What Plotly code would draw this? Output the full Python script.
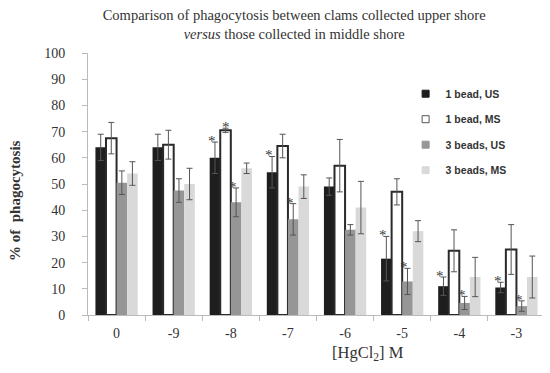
import plotly.graph_objects as go

categories = ["0", "-9", "-8", "-7", "-6", "-5", "-4", "-3"]
series_names = ["1 bead, US", "1 bead, MS", "3 beads, US", "3 beads, MS"]

bead1_us = [64, 64, 60, 54.5, 49, 21.5, 11, 10.5]
bead1_us_err = [5, 5, 6, 6, 3.3, 8.5, 3.5, 2]
bead1_ms = [67.5, 65, 70.5, 64.5, 57, 47, 24.5, 25]
bead1_ms_err = [6, 5.5, 0.8, 4.5, 10, 5, 8, 9.5]
bead3_us = [50.5, 47.5, 43, 36.5, 32.5, 12.8, 4.6, 3.4]
bead3_us_err = [4.5, 4.5, 5.5, 6, 2, 5, 2.5, 2]
bead3_ms = [54, 50, 56, 49, 41, 32, 14.5, 14.5]
bead3_ms_err = [4.5, 6, 2, 4.5, 10, 4, 7.5, 8]

# significance marks (1 = asterisk)
sig_1us = [0, 0, 1, 1, 0, 1, 1, 1]
sig_1ms = [0, 0, 1, 0, 0, 0, 0, 0]
sig_3us = [0, 0, 1, 1, 0, 1, 1, 1]

colors = ["#1e1e1e", "#ffffff", "#969696", "#d9d9d9"]
line_colors = ["#1e1e1e", "#2a2a2a", "#969696", "#d9d9d9"]
line_widths = [0, 2, 0, 0]

values = [bead1_us, bead1_ms, bead3_us, bead3_ms]
errors = [bead1_us_err, bead1_ms_err, bead3_us_err, bead3_ms_err]

# page has an 8px body margin, so the figure is sized to fit the window
W, H = 542, 365
L, R, T, B = 80, 5, 45, 58
bargap = 0.26

fig = go.Figure()
for name, v, e, c, lc, lw in zip(series_names, values, errors, colors, line_colors, line_widths):
    fig.add_trace(go.Bar(
        x=categories, y=v, name=name, showlegend=False,
        marker=dict(color=c, line=dict(color=lc, width=lw)),
        error_y=dict(type="data", array=e, visible=True, color="#555555",
                     thickness=1, width=3),
    ))

# legend entries with small square symbols
legend_colors = ["#1e1e1e", "#ffffff", "#969696", "#d9d9d9"]
legend_lines = ["#1e1e1e", "#555555", "#969696", "#d9d9d9"]
for i, (name, c, lc) in enumerate(zip(series_names, legend_colors, legend_lines)):
    fig.add_trace(go.Scatter(
        x=[categories[0]], y=[None], mode="markers", name=name, legendgroup=f"g{i}",
        marker=dict(symbol="square", size=7, color=c, line=dict(color=lc, width=1)),
    ))

# asterisks
plot_w = W - L - R
plot_h = H - T - B
cat_w = plot_w / len(categories)
bw = cat_w * (1 - bargap) / 4
annotations = []
for sigs, v, e, idx, dx in [(sig_1us, bead1_us, bead1_us_err, 0, -3),
                             (sig_1ms, bead1_ms, bead1_ms_err, 1, 0),
                             (sig_3us, bead3_us, bead3_us_err, 2, -3)]:
    off = (idx - 1.5) * bw
    for ci, (s, vv, ee) in enumerate(zip(sigs, v, e)):
        if s:
            annotations.append(dict(
                x=ci, y=vv + ee, xref="x", yref="y", text="*", showarrow=False,
                xshift=off + dx, yshift=1, yanchor="middle",
                font=dict(family="Liberation Serif", size=15, color="#3a3a3a"),
            ))

# x axis title
annotations.append(dict(
    x=(360 - L) / plot_w, y=-(345 - (H - B)) / plot_h, xref="paper", yref="paper",
    text="[HgCl<sub>2</sub>] M", showarrow=False, yanchor="middle",
    font=dict(family="Liberation Serif", size=16.5, color="#333333"),
))
# y axis title
annotations.append(dict(
    x=-(L - 7) / plot_w, y=(H - B - 193) / plot_h, xref="paper", yref="paper",
    text="<b>% of  phagocytosis</b>", showarrow=False, textangle=-90,
    xanchor="center", yanchor="middle",
    font=dict(family="Liberation Serif", size=15, color="#333333"),
))

fig.update_layout(
    width=W, height=H,
    margin=dict(l=L, r=R, t=T, b=B, autoexpand=False),
    paper_bgcolor="white", plot_bgcolor="white",
    barmode="group", bargap=bargap, bargroupgap=0,
    title=dict(
        text="Comparison of phagocytosis between clams collected upper shore<br><i>versus</i> those collected in middle shore",
        x=0.528, xanchor="center", y=0.967, yanchor="top", xref="container", yref="container",
        font=dict(family="Liberation Serif", size=14.5, color="#333333"),
    ),
    font=dict(family="Liberation Serif", size=13, color="#333333"),
    legend=dict(
        x=0.695, y=0.90, xanchor="left", yanchor="top",
        font=dict(family="Liberation Sans", size=10.5, color="#333333", weight="bold"),
        tracegroupgap=6.5, bgcolor="rgba(0,0,0,0)", itemwidth=30,
    ),
    annotations=annotations,
    showlegend=True,
)
fig.update_xaxes(
    type="category", categoryorder="array", categoryarray=categories,
    range=[-0.5, len(categories) - 0.5], automargin=False,
    showline=True, linecolor="#bbbbbb", linewidth=1,
    ticks="outside", tickson="boundaries", ticklen=5, tickcolor="#bbbbbb",
    ticklabelstandoff=5,
    showgrid=False, tickfont=dict(family="Liberation Serif", size=14, color="#333333"),
)
fig.update_yaxes(
    range=[0, 100], dtick=10, showline=True, linecolor="#bbbbbb", linewidth=1,
    ticks="outside", ticklen=5, tickcolor="#bbbbbb", showgrid=False, zeroline=False,
    automargin=False, ticklabelstandoff=14,
    tickfont=dict(family="Liberation Serif", size=14, color="#333333"),
)

fig.write_html("out.html")
